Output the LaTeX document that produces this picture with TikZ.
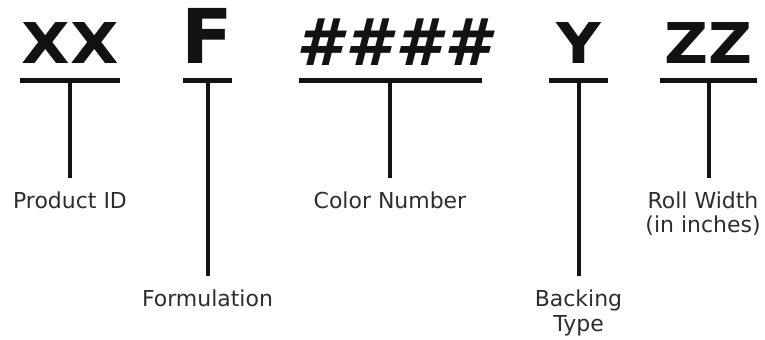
\documentclass[tikz,border=0pt]{standalone}
\usepackage{fontspec}
\setmainfont{DejaVu Sans}
\usepackage{xcolor}
\usepackage{tikz}
\definecolor{codeblack}{RGB}{18, 18, 18}
\definecolor{labelgray}{RGB}{45, 45, 45}

\begin{document}
\begin{tikzpicture}[
  code/.style={anchor=base, inner sep=0pt, text=codeblack, font=\fontsize{32}{36}\selectfont\bfseries},
  bar/.style={fill=codeblack, inner sep=0pt, minimum height=0.1cm},
  part/.style={anchor=north, inner sep=0pt, align=center, text=labelgray, font=\fontsize{12.5}{14.2}\selectfont},
  stem/.style={draw=codeblack, line width=0.08cm, shorten >=0.26cm}
]
\useasboundingbox (0,0) rectangle (15.3,-6.78);

% Code characters
\node[code, xscale=1.12] (xx) at (1.4,-1.26) {XX};
\node[code, font=\fontsize{43}{48}\selectfont\bfseries] (f) at (4.15,-1.26) {F};
\node[code, font=\fontsize{37}{42}\selectfont\bfseries\itshape] (num) at (7.86,-1.3) {\#\kern0.08cm\#\kern0.08cm\#\kern0.08cm\#};
\node[code, xscale=1.1] (y) at (11.57,-1.26) {Y};
\node[code, xscale=1.08] (zz) at (14.17,-1.26) {ZZ};

% Underlines
\node[bar, minimum width=2.0cm] (xxbar) at (1.4,-1.6) {};
\node[bar, minimum width=0.98cm] (fbar) at (4.15,-1.6) {};
\node[bar, minimum width=3.66cm] (numbar) at (7.8,-1.6) {};
\node[bar, minimum width=1.18cm] (ybar) at (11.57,-1.6) {};
\node[bar, minimum width=1.94cm] (zzbar) at (14.17,-1.6) {};

% Part labels
\node[part] (pid) at (1.4,-3.82) {Product ID};
\node[part] (form) at (4.15,-5.78) {Formulation};
\node[part] (color) at (7.8,-3.82) {Color Number};
\node[part] (back) at (11.57,-5.78) {Backing\\Type};
\node[part] (roll) at (14.06,-3.82) {Roll Width\\(in inches)};

% Stems
\draw[stem] (xxbar.south) -- (pid.north);
\draw[stem] (fbar.south) -- (form.north);
\draw[stem] (numbar.south) -- (color.north);
\draw[stem] (ybar.south) -- (back.north);
\draw[stem] (zzbar.south) -- (zzbar.south |- roll.north);
\end{tikzpicture}
\end{document}
